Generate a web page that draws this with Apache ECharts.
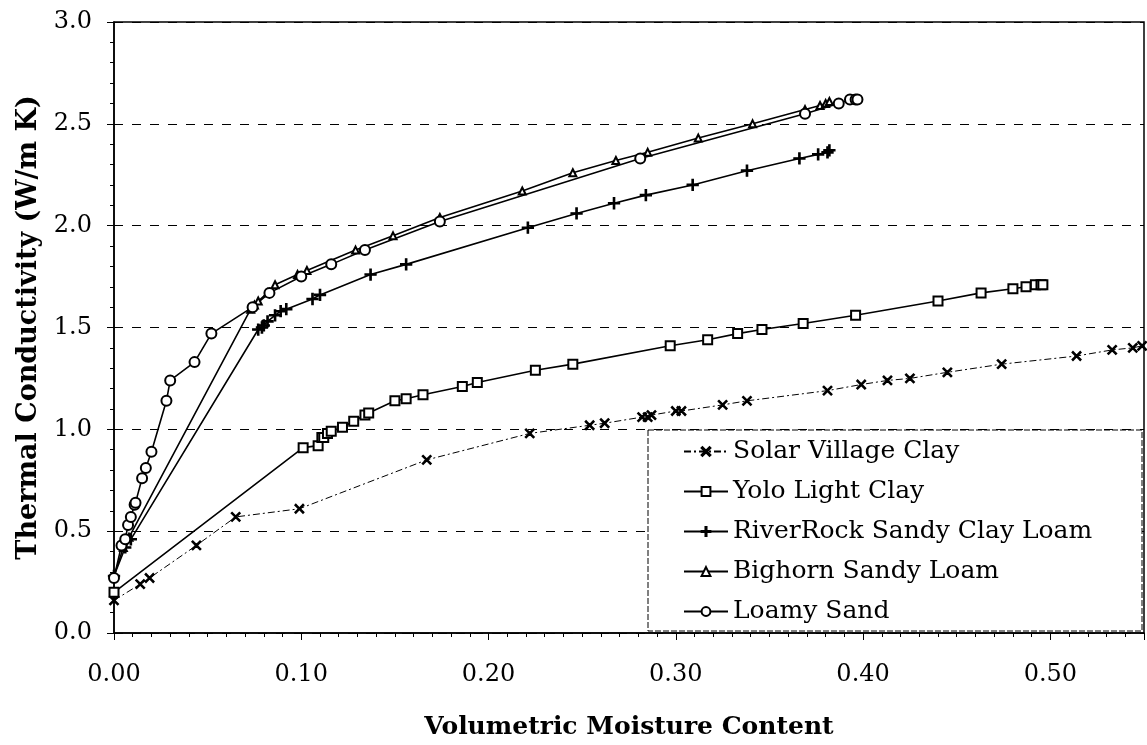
<!DOCTYPE html>
<html lang="en">
<head>
    <meta charset="UTF-8">
    <script src="https://cdn.jsdelivr.net/npm/echarts@6/dist/echarts.min.js"></script>
</head>
<body style="margin:0">
<div id="chart" style="width: 1147px;height: 745px"></div>
<script>
    // values: [moisture, conductivity]
    var solarVillage = [[0, 0.16], [0.014, 0.24], [0.019, 0.27], [0.044, 0.43], [0.065, 0.57], [0.099, 0.61],
        [0.167, 0.85], [0.222, 0.98], [0.254, 1.02], [0.262, 1.03], [0.282, 1.06], [0.285, 1.06], [0.287, 1.07],
        [0.300, 1.09], [0.303, 1.09], [0.325, 1.12], [0.338, 1.14], [0.381, 1.19], [0.399, 1.22], [0.413, 1.24],
        [0.425, 1.25], [0.445, 1.28], [0.474, 1.32], [0.514, 1.36], [0.533, 1.39], [0.544, 1.40], [0.549, 1.41]];
    var yoloLight = [[0, 0.20], [0.101, 0.91], [0.109, 0.92], [0.111, 0.96], [0.112, 0.96], [0.114, 0.98],
        [0.116, 0.99], [0.122, 1.01], [0.128, 1.04], [0.134, 1.07], [0.136, 1.08], [0.150, 1.14], [0.156, 1.15],
        [0.165, 1.17], [0.186, 1.21], [0.194, 1.23], [0.225, 1.29], [0.245, 1.32], [0.297, 1.41], [0.317, 1.44],
        [0.333, 1.47], [0.346, 1.49], [0.368, 1.52], [0.396, 1.56], [0.440, 1.63], [0.463, 1.67], [0.480, 1.69],
        [0.487, 1.70], [0.492, 1.71], [0.495, 1.71], [0.496, 1.71]];
    var riverRock = [[0, 0.28], [0.006, 0.42], [0.009, 0.46], [0.077, 1.49], [0.079, 1.50], [0.080, 1.51],
        [0.082, 1.53], [0.086, 1.56], [0.089, 1.58], [0.092, 1.59], [0.106, 1.64], [0.110, 1.66], [0.137, 1.76],
        [0.156, 1.81], [0.221, 1.99], [0.247, 2.06], [0.267, 2.11], [0.284, 2.15], [0.309, 2.20], [0.338, 2.27],
        [0.366, 2.33], [0.376, 2.35], [0.381, 2.36], [0.382, 2.37]];
    var bighorn = [[0, 0.28], [0.005, 0.42], [0.008, 0.47], [0.073, 1.59], [0.075, 1.61], [0.077, 1.63],
        [0.082, 1.67], [0.086, 1.71], [0.098, 1.76], [0.103, 1.78], [0.129, 1.88], [0.149, 1.95], [0.174, 2.04],
        [0.218, 2.17], [0.245, 2.26], [0.268, 2.32], [0.285, 2.36], [0.312, 2.43], [0.341, 2.50], [0.369, 2.57],
        [0.377, 2.59], [0.380, 2.60], [0.382, 2.61]];
    var loamySand = [[0, 0.27], [0.004, 0.43], [0.006, 0.46], [0.0075, 0.53], [0.009, 0.57], [0.011, 0.63],
        [0.0115, 0.64], [0.015, 0.76], [0.017, 0.81], [0.020, 0.89], [0.028, 1.14], [0.030, 1.24], [0.043, 1.33],
        [0.052, 1.47], [0.074, 1.60], [0.083, 1.67], [0.100, 1.75], [0.116, 1.81], [0.134, 1.88], [0.174, 2.02],
        [0.281, 2.33], [0.369, 2.55], [0.387, 2.60], [0.393, 2.62], [0.396, 2.62], [0.397, 2.62]];
    var names = ['Solar Village Clay', 'Yolo Light Clay', 'RiverRock Sandy Clay Loam', 'Bighorn Sandy Loam', 'Loamy Sand'];

    var serif = 'DejaVu Serif';
    var plusPath = 'path://M4.4,0h1.2v4.4h4.4v1.2h-4.4v4.4h-1.2v-4.4h-4.4v-1.2h4.4z';
    var crossPath = 'path://M0,1L1,0L5,4L9,0L10,1L6,5L10,9L9,10L5,6L1,10L0,9L4,5Z';

    function mkSeries(name, data, symbol, size, dash) {
        return {
            name: name,
            type: 'line',
            data: data,
            symbol: symbol,
            symbolSize: size,
            showAllSymbol: true,
            lineStyle: {color: '#000', width: dash ? 1 : 1.6, type: dash ? [7, 3, 2, 3] : 'solid'},
            itemStyle: {color: '#000', borderColor: '#000', borderWidth: 1.3},
            animation: false
        };
    }

    var chart = echarts.init(document.getElementById('chart'));
    var option = {
        backgroundColor: '#fff',
        grid: {left: 114, right: 3, top: 22, bottom: 105, show: true, borderColor: '#000', borderWidth: 1.5},
        graphic: [{
            type: 'rect', z: 5,
            shape: {x: 648, y: 430, width: 494, height: 201},
            style: {fill: '#fff', stroke: '#000', lineWidth: 1, lineDash: [6, 2]}
        }],
        legend: {
            orient: 'vertical',
            left: 648, top: 430,
            padding: [9, 10, 10, 35],
            itemWidth: 44, itemHeight: 11, itemGap: 15,
            z: 10,
            textStyle: {fontFamily: serif, fontSize: 25, color: '#000'},
            data: names
        },
        xAxis: {
            type: 'value', min: 0, max: 0.55, interval: 0.1,
            name: 'Volumetric Moisture Content', nameLocation: 'middle', nameGap: 82,
            nameTextStyle: {fontFamily: serif, fontSize: 25, fontWeight: 'bold', color: '#000'},
            axisLine: {lineStyle: {color: '#000', width: 1.5}},
            axisTick: {length: 7, lineStyle: {color: '#000'}},
            minorTick: {show: true, splitNumber: 10, length: 4, lineStyle: {color: '#000'}},
            splitLine: {show: false},
            axisLabel: {fontFamily: serif, fontSize: 24, color: '#000', margin: 30, showMaxLabel: false,
                formatter: function (v) { return v.toFixed(2); }}
        },
        yAxis: {
            type: 'value', min: 0, max: 3, interval: 0.5,
            name: 'Thermal Conductivity (W/m K)', nameLocation: 'middle', nameGap: 63,
            nameTextStyle: {fontFamily: serif, fontSize: 27, fontWeight: 'bold', color: '#000'},
            axisLine: {show: true, lineStyle: {color: '#000', width: 1.5}},
            axisTick: {show: true, length: 7, lineStyle: {color: '#000'}},
            minorTick: {show: true, splitNumber: 5, length: 4, lineStyle: {color: '#000'}},
            splitLine: {show: true, lineStyle: {color: '#000', type: [9, 9], width: 1}},
            axisLabel: {fontFamily: serif, fontSize: 24, color: '#000', margin: 22,
                formatter: function (v) { return v.toFixed(1); }}
        },
        series: [
            mkSeries(names[0], solarVillage, crossPath, 9, true),
            mkSeries(names[1], yoloLight, 'emptyRect', 9, false),
            mkSeries(names[2], riverRock, plusPath, 11, false),
            mkSeries(names[3], bighorn, 'emptyTriangle', 7, false),
            mkSeries(names[4], loamySand, 'emptyCircle', 10, false)
        ]
    };
    chart.setOption(option);
</script>
</body>
</html>
